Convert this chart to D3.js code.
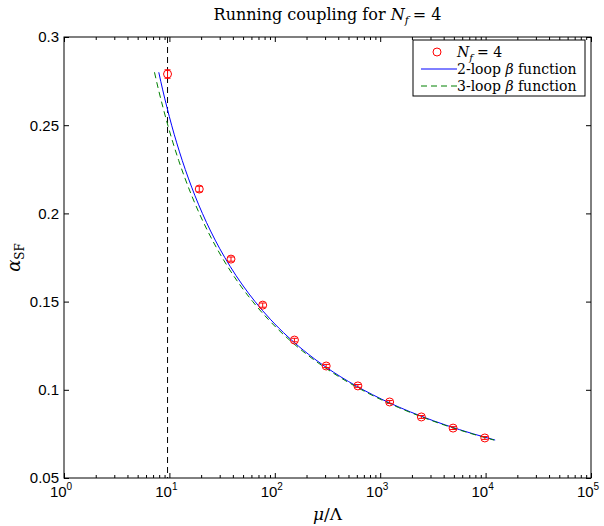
<!DOCTYPE html>
<html lang="en">
<head>
<meta charset="utf-8">
<title>Running coupling for Nf = 4</title>
<script src="https://cdn.jsdelivr.net/npm/d3@7"></script>
<style>
  body { margin: 0; background: #fff; }
</style>
</head>
<body>
<script>
  // lattice data points
  let muOverLambda = [9.6, 19.2, 38.4, 76.8, 153.6, 307.2, 614.4, 1228.8, 2457.6, 4915.2, 9830.4];
  let alphaSF = [0.279, 0.2138, 0.1741, 0.148, 0.1282, 0.1135, 0.1022, 0.0931, 0.0846, 0.0783, 0.0727];
  let alphaErr = [0.0024, 0.0016, 0.0012, 0.0012, 0.001, 0.0009, 0.0008, 0.0008, 0.0008, 0.0008, 0.0008];

  let curveAlpha = [0.28, 0.27, 0.26, 0.25, 0.24, 0.23, 0.22, 0.21, 0.20, 0.19, 0.18, 0.17,
                    0.16, 0.15, 0.14, 0.13, 0.12, 0.11, 0.10, 0.09, 0.085, 0.08, 0.075, 0.0715];
  let twoLoopMu = [7.93, 8.64, 9.49, 10.5, 11.73, 13.24, 15.12, 17.49, 20.56, 24.6, 30.06, 37.65,
                   48.58, 64.95, 90.65, 133.5, 210.1, 360.2, 690, 1533, 2458, 4184, 7656, 12320];
  let threeLoopMu = [7.22, 7.89, 8.7, 9.66, 10.82, 12.25, 14.04, 16.3, 19.22, 23.08, 28.3, 35.56,
                     46.04, 61.76, 86.49, 127.8, 201.8, 347.1, 667.2, 1487, 2389, 4073, 7465, 12030];

  let cutoff = 9.6; // vertical dashed line
  let yTicks = [0.05, 0.1, 0.15, 0.2, 0.25, 0.3];
  let xDecades = [0, 1, 2, 3, 4, 5];
  let legendLabels = ["N_f = 4", "2-loop β function", "3-loop β function"];

  let width = 604, height = 526;
  let margins = { left: 64, top: 37, right: 13, bottom: 48 };
  let plotW = width - margins.left - margins.right;
  let plotH = height - margins.top - margins.bottom;

  let svg = d3.select("body").append("svg")
    .attr("width", width)
    .attr("height", height)
    .style("font-family", "'Liberation Sans', Arial, sans-serif");

  let xScale = d3.scaleLog().domain([1, 1e5]).range([margins.left, margins.left + plotW]);
  let yScale = d3.scaleLinear().domain([0.05, 0.3]).range([margins.top + plotH, margins.top]);

  let serif = "'DejaVu Serif', 'Liberation Serif', serif";

  // minor log ticks
  let minorTicks = [];
  for (let d = 0; d < 5; d++) {
    for (let k = 2; k <= 9; k++) minorTicks.push(k * Math.pow(10, d));
  }
  let majorTicks = xDecades.map(d => Math.pow(10, d));

  let axesG = svg.append("g");
  // bottom / top axes with inward ticks
  axesG.append("g")
    .attr("transform", `translate(0, ${margins.top + plotH})`)
    .call(d3.axisBottom(xScale).tickValues(majorTicks).tickSize(-5).tickFormat(""));
  axesG.append("g")
    .attr("transform", `translate(0, ${margins.top + plotH})`)
    .call(d3.axisBottom(xScale).tickValues(minorTicks).tickSize(-3).tickFormat(""));
  axesG.append("g")
    .attr("transform", `translate(0, ${margins.top})`)
    .call(d3.axisTop(xScale).tickValues(majorTicks).tickSize(-5).tickFormat(""));
  axesG.append("g")
    .attr("transform", `translate(0, ${margins.top})`)
    .call(d3.axisTop(xScale).tickValues(minorTicks).tickSize(-3).tickFormat(""));
  // left / right axes
  axesG.append("g")
    .attr("transform", `translate(${margins.left}, 0)`)
    .call(d3.axisLeft(yScale).tickValues(yTicks).tickSize(-5).tickFormat(""));
  axesG.append("g")
    .attr("transform", `translate(${margins.left + plotW}, 0)`)
    .call(d3.axisRight(yScale).tickValues(yTicks).tickSize(-5).tickFormat(""));
  axesG.selectAll(".domain").remove();
  axesG.selectAll("line").attr("stroke", "#000").attr("stroke-width", 1);

  // tick labels
  svg.append("g").selectAll("text").data(yTicks).join("text")
    .attr("x", margins.left - 5)
    .attr("y", d => yScale(d))
    .attr("dy", "0.36em")
    .attr("text-anchor", "end")
    .attr("font-size", 15)
    .text(d => d3.format("")(+d.toFixed(2)));

  let xl = svg.append("g").selectAll("text").data(xDecades).join("text")
    .attr("x", d => xScale(Math.pow(10, d)) - 3)
    .attr("y", margins.top + plotH + 19)
    .attr("text-anchor", "middle")
    .attr("font-size", 15);
  xl.append("tspan").text("10");
  xl.append("tspan").attr("dy", -7).attr("font-size", 10).text(d => d);

  // plot clip
  svg.append("clipPath").attr("id", "clip").append("rect")
    .attr("x", margins.left).attr("y", margins.top)
    .attr("width", plotW).attr("height", plotH);
  let plot = svg.append("g").attr("clip-path", "url(#clip)");

  // vertical dashed line
  plot.append("line")
    .attr("x1", xScale(cutoff)).attr("x2", xScale(cutoff))
    .attr("y1", margins.top).attr("y2", margins.top + plotH)
    .attr("stroke", "#000").attr("stroke-width", 1)
    .attr("stroke-dasharray", "6,4");

  let line = d3.line().x(d => xScale(d[0])).y(d => yScale(d[1])).curve(d3.curveMonotoneX);
  let twoLoop = twoLoopMu.map((m, i) => [m, curveAlpha[i]]);
  let threeLoop = threeLoopMu.map((m, i) => [m, curveAlpha[i]]);

  plot.append("path").datum(twoLoop)
    .attr("d", line)
    .attr("fill", "none").attr("stroke", "#0000ff").attr("stroke-width", 1);
  plot.append("path").datum(threeLoop)
    .attr("d", line)
    .attr("fill", "none").attr("stroke", "#008000").attr("stroke-width", 1)
    .attr("stroke-dasharray", "6,4");

  // data points with error bars
  let pts = plot.selectAll(".pt").data(muOverLambda.map((m, i) => ({ m, a: alphaSF[i], e: alphaErr[i] })))
    .join("g").attr("class", "pt");
  pts.append("line")
    .attr("x1", d => xScale(d.m)).attr("x2", d => xScale(d.m))
    .attr("y1", d => yScale(d.a - d.e)).attr("y2", d => yScale(d.a + d.e))
    .attr("stroke", "#ff0000");
  pts.append("line")
    .attr("x1", d => xScale(d.m) - 3).attr("x2", d => xScale(d.m) + 3)
    .attr("y1", d => yScale(d.a - d.e)).attr("y2", d => yScale(d.a - d.e))
    .attr("stroke", "#ff0000");
  pts.append("line")
    .attr("x1", d => xScale(d.m) - 3).attr("x2", d => xScale(d.m) + 3)
    .attr("y1", d => yScale(d.a + d.e)).attr("y2", d => yScale(d.a + d.e))
    .attr("stroke", "#ff0000");
  pts.append("circle")
    .attr("cx", d => xScale(d.m)).attr("cy", d => yScale(d.a))
    .attr("r", 4)
    .attr("fill", "none").attr("stroke", "#ff0000").attr("stroke-width", 1);

  // frame
  svg.append("rect")
    .attr("x", margins.left).attr("y", margins.top)
    .attr("width", plotW).attr("height", plotH)
    .attr("fill", "none").attr("stroke", "#000").attr("stroke-width", 1);

  // title
  let title = svg.append("text")
    .attr("x", margins.left + plotW / 2).attr("y", 20)
    .attr("text-anchor", "middle")
    .attr("font-family", serif).attr("font-size", 16);
  title.append("tspan").text("Running coupling for ");
  title.append("tspan").attr("font-style", "italic").text("N");
  title.append("tspan").attr("font-style", "italic").attr("font-size", 11).attr("dy", 4).text("f");
  title.append("tspan").attr("dy", -4).attr("dx", 4).text("= 4");

  // x label
  svg.append("text")
    .attr("x", margins.left + plotW / 2).attr("y", 520)
    .attr("text-anchor", "middle")
    .attr("font-family", serif).attr("font-size", 17)
    .html("<tspan font-style='italic'>μ</tspan>/Λ");

  // y label
  let yLab = svg.append("text")
    .attr("transform", `translate(20, ${margins.top + plotH / 2}) rotate(-90)`)
    .attr("text-anchor", "middle")
    .attr("font-family", serif).attr("font-size", 18);
  yLab.append("tspan").attr("font-style", "italic").text("α");
  yLab.append("tspan").attr("font-size", 12).attr("dy", 4).text("SF");

  // legend
  let lg = svg.append("g").attr("transform", "translate(413, 40)");
  lg.append("rect").attr("width", 172).attr("height", 56)
    .attr("fill", "#fff").attr("stroke", "#000").attr("stroke-width", 1);
  let rowY = [12, 29, 46];
  lg.append("circle").attr("cx", 24).attr("cy", rowY[0]).attr("r", 4)
    .attr("fill", "none").attr("stroke", "#ff0000");
  lg.append("line").attr("x1", 8).attr("x2", 44).attr("y1", rowY[1]).attr("y2", rowY[1])
    .attr("stroke", "#0000ff");
  lg.append("line").attr("x1", 8).attr("x2", 44).attr("y1", rowY[2]).attr("y2", rowY[2])
    .attr("stroke", "#008000").attr("stroke-dasharray", "6,4");

  let t0 = lg.append("text").attr("x", 44).attr("y", rowY[0] + 5)
    .attr("font-family", serif).attr("font-size", 14);
  t0.append("tspan").attr("font-style", "italic").text("N");
  t0.append("tspan").attr("font-style", "italic").attr("font-size", 10).attr("dy", 4).text("f");
  t0.append("tspan").attr("dy", -4).attr("dx", 4).text("= 4");
  [1, 2].forEach(i => {
    let parts = legendLabels[i].split("β");
    let t = lg.append("text").attr("x", 44).attr("y", rowY[i] + 5)
      .attr("font-family", serif).attr("font-size", 14);
    t.append("tspan").text(parts[0]);
    t.append("tspan").attr("font-style", "italic").text("β");
    t.append("tspan").text(parts[1]);
  });
</script>
</body>
</html>
